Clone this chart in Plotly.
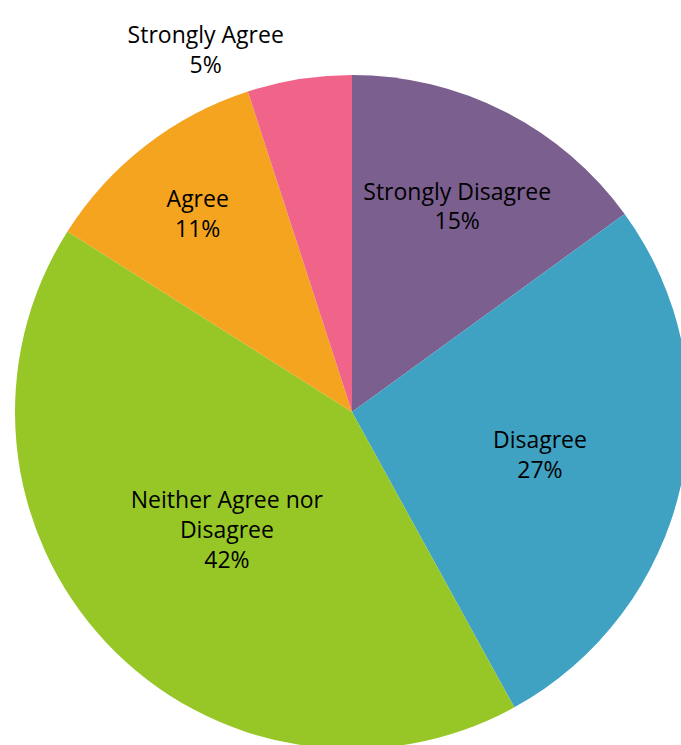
import plotly.graph_objects as go

categories = ["Strongly Disagree", "Disagree", "Neither Agree nor Disagree", "Agree", "Strongly Agree"]
display_labels = ["Strongly Disagree", "Disagree", "Neither Agree nor<br>Disagree", "Agree", "Strongly Agree"]
values = [15, 27, 42, 11, 5]
colors = ["#7B5F8F", "#3FA2C3", "#97C726", "#F4A41E", "#F06489"]
text_positions = ["inside", "inside", "inside", "inside", "outside"]

fig = go.Figure(go.Pie(
    labels=categories,
    values=values,
    text=display_labels,
    texttemplate="%{text}<br>%{percent:.0%}",
    textposition=text_positions,
    insidetextorientation="horizontal",
    sort=False,
    direction="clockwise",
    rotation=0,
    marker=dict(colors=colors, line=dict(width=0)),
    textfont=dict(family="Open Sans", size=23, color="#000000"),
    showlegend=False,
    hoverinfo="label+percent",
))

fig.update_layout(
    width=690,
    height=750,
    margin=dict(l=15, r=1, t=75, b=1, autoexpand=False),
    paper_bgcolor="#FFFFFF",
    plot_bgcolor="#FFFFFF",
    uniformtext=dict(minsize=23, mode="show"),
)

post = ("document.body.style.margin='0';document.body.style.overflow='hidden';"
        "document.documentElement.style.overflow='hidden';")
fig.write_html("out.html", post_script=post, config={"displayModeBar": False})
